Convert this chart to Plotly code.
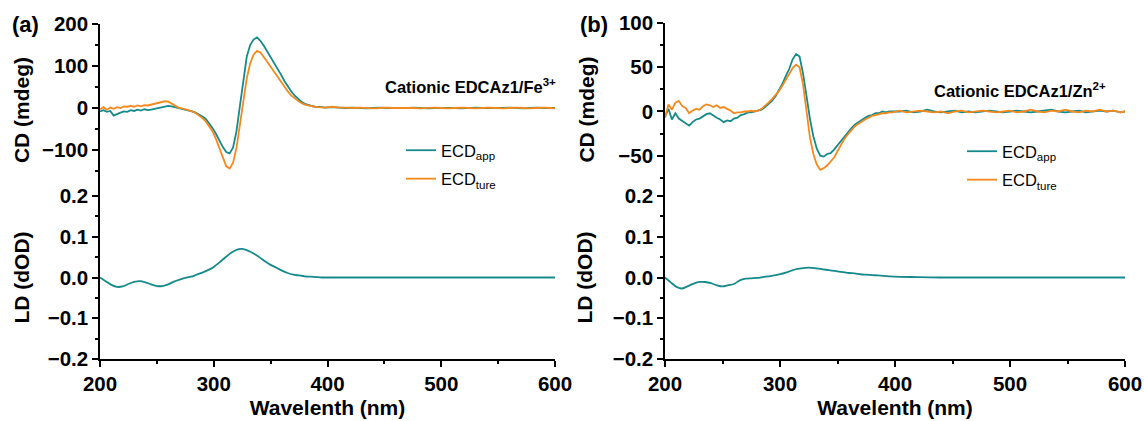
import plotly.graph_objects as go

# ---------------- data ----------------
wl_cd = list(range(200, 399, 3)) + list(range(404, 597, 6)) + [600]
wl_ld = list(range(200, 401, 5)) + list(range(420, 601, 20))

cd_a_app = [-8, -5, -9, -7, -18, -14, -11, -8, -9, -5,
            -7, -4, -6, -3, -5, -4, -2, -1, 1, 3,
            5, 4, 2, 0, -1, -3, -5, -8, -11, -15,
            -20, -26, -36, -48, -62, -78, -93, -105, -108, -94,
            -55, 5, 70, 122, 150, 163, 168, 160, 148, 135,
            122, 108, 94, 80, 65, 52, 40, 30, 22, 15,
            10, 7, 5, 3, 3, 2, 1,
            2, 1, 0, 1, 0, -1, 0, 1, 0, 0,
            -1, 0, 1, 0, -1, 0, 0, 1, 0, -1,
            0, 1, 0, 0, -1, 0, 1, 0, -1, 0,
            1, 0, -1, 0]
cd_a_ture = [-3, 2, -4, 1, -2, 2, 0, 4, 3, 5,
             3, 6, 4, 7, 6, 8, 10, 11, 13, 16,
             15, 10, 5, 1, -1, -3, -5, -8, -12, -17,
             -24, -32, -43, -56, -74, -96, -120, -139, -144, -130,
             -95, -45, 15, 70, 106, 127, 136, 132, 122, 110,
             98, 86, 74, 62, 50, 40, 30, 23, 17, 12,
             8, 6, 4, 3, 2, 2, 1,
             3, 1, 1, 0, 1, 0, -1, 0, 1, 0,
             0, 1, 0, -1, 0, 1, 0, -1, 0, 1,
             0, -1, 0, 1, 0, -1, 0, 1, 0, -1,
             0, 1, 0, -1]
cd_b_app = [-6, 3, -9, -2, -8, -11, -14, -16, -12, -9,
            -8, -5, -3, -2, -5, -7, -9, -12, -10, -11,
            -8, -7, -4, -3, -1, -1, 0, 1, 2, 5,
            8, 12, 17, 24, 31, 40, 48, 59, 65, 62,
            43, 18, -8, -28, -42, -50, -51, -48, -47, -43,
            -38, -34, -29, -24, -19, -15, -12, -9, -7, -5,
            -4, -2, -2, 0, -1, 0, 0,
            0, 1, -1, 0, 2, 0, -1, 0, 1, -1,
            0, -1, 0, 1, 0, -1, 0, 1, 0, -1,
            0, 1, 2, 0, -1, 0, 1, -1, 0, 1,
            0, 1, -1, 0]
cd_b_ture = [-7, 8, 2, 10, 12, 6, 4, -2, 1, 3,
             2, 6, 8, 7, 5, 7, 4, 5, 3, 1,
             -2, -1, -1, 0, 0, 1, 0, 1, 3, 6,
             10, 14, 18, 23, 29, 36, 43, 49, 53, 50,
             31, 0, -29, -48, -60, -66, -64, -61, -57, -52,
             -45, -38, -31, -26, -21, -17, -14, -11, -9, -7,
             -5, -4, -3, -2, -2, -1, -1,
             1, -1, 0, 1, 0, -1, 0, -2, 0, 1,
             -1, 0, 1, 0, -1, 0, 1, -1, 0, 2,
             0, -1, 1, 0, 2, 0, -1, 1, 0, 2,
             0, 1, -1, 0]

ld_a = [0.000, -0.009, -0.018, -0.023, -0.022, -0.016, -0.011, -0.009, -0.012, -0.017,
        -0.021, -0.021, -0.017, -0.010, -0.005, -0.001, 0.002, 0.007, 0.012, 0.018,
        0.026, 0.037, 0.049, 0.060, 0.068, 0.070, 0.066, 0.059, 0.050, 0.040,
        0.031, 0.024, 0.017, 0.011, 0.007, 0.005, 0.003, 0.002, 0.001, 0.000,
        0.000,
        0.000, 0.000, 0.000, 0.000, 0.000, 0.000, 0.000, 0.000, 0.000, 0.000]
ld_b = [0.000, -0.012, -0.023, -0.027, -0.021, -0.015, -0.011, -0.011, -0.014, -0.019,
        -0.022, -0.019, -0.016, -0.007, -0.003, -0.002, -0.001, 0.001, 0.003, 0.005,
        0.008, 0.012, 0.017, 0.021, 0.023, 0.024, 0.023, 0.021, 0.019, 0.017,
        0.015, 0.013, 0.011, 0.010, 0.008, 0.007, 0.006, 0.005, 0.004, 0.003,
        0.002,
        0.001, 0.000, 0.000, 0.000, 0.000, 0.000, 0.000, 0.000, 0.000, 0.000]

series_names = ["ECD<sub>app</sub>", "ECD<sub>ture</sub>"]
panel_labels = ["(a)", "(b)"]
sample_labels = ["Cationic EDCAz1/Fe<sup>3+</sup>", "Cationic EDCAz1/Zn<sup>2+</sup>"]
x_ticks = [200, 300, 400, 500, 600]
cd_a_ticks = [-100, 0, 100, 200]
cd_b_ticks = [-50, 0, 50, 100]
ld_ticks = [-0.2, -0.1, 0.0, 0.1, 0.2]

# ---------------- style ----------------
W, H = 1144, 421
TEAL = "#16898a"
ORANGE = "#f5891d"
FONT = "Liberation Sans, Arial, sans-serif"
LW = 1.8

def px(x):
    return x / W

def py(y):
    return 1 - y / H

fig = go.Figure()

# panel (a)
fig.add_trace(go.Scatter(x=wl_cd, y=cd_a_app, mode="lines", name=series_names[0],
                         line=dict(color=TEAL, width=LW), xaxis="x2", yaxis="y2",
                         legend="legend", legendgroup="a1"))
fig.add_trace(go.Scatter(x=wl_cd, y=cd_a_ture, mode="lines", name=series_names[1],
                         line=dict(color=ORANGE, width=LW), xaxis="x2", yaxis="y2",
                         legend="legend", legendgroup="a2"))
fig.add_trace(go.Scatter(x=wl_ld, y=ld_a, mode="lines", showlegend=False,
                         line=dict(color=TEAL, width=LW, shape="spline", smoothing=0.8),
                         xaxis="x", yaxis="y"))
# panel (b)
fig.add_trace(go.Scatter(x=wl_cd, y=cd_b_app, mode="lines", name=series_names[0],
                         line=dict(color=TEAL, width=LW), xaxis="x4", yaxis="y4",
                         legend="legend2", legendgroup="b1"))
fig.add_trace(go.Scatter(x=wl_cd, y=cd_b_ture, mode="lines", name=series_names[1],
                         line=dict(color=ORANGE, width=LW), xaxis="x4", yaxis="y4",
                         legend="legend2", legendgroup="b2"))
fig.add_trace(go.Scatter(x=wl_ld, y=ld_b, mode="lines", showlegend=False,
                         line=dict(color=TEAL, width=LW, shape="spline", smoothing=0.8),
                         xaxis="x3", yaxis="y3"))

tickfont = dict(family=FONT, size=20.5, color="black", weight="bold")
titlefont = dict(family=FONT, size=21, color="black", weight="bold")

def ax_common():
    return dict(showline=True, linecolor="black", linewidth=1.5, ticks="outside",
                ticklen=6, tickwidth=1.5, tickcolor="black", showgrid=False,
                zeroline=False, tickfont=tickfont, mirror=False, automargin=False)

def minor(vals):
    return dict(tickmode="array", tickvals=vals, ticks="outside", ticklen=3,
                tickwidth=1.5, tickcolor="black", showgrid=False)

xa_dom = [px(100), px(555)]
xb_dom = [px(665), px(1125)]
ld_dom = [py(359), py(196)]

layout = dict(
    width=W, height=H, margin=dict(l=0, r=0, t=0, b=0, autoexpand=False),
    paper_bgcolor="white", plot_bgcolor="white",
    font=dict(family=FONT, color="black"),
    xaxis=dict(**ax_common(), domain=xa_dom, range=[200, 600], anchor="y",
               tickmode="array", tickvals=x_ticks, minor=minor([250, 350, 450, 550]),
               title=dict(text="Wavelenth (nm)", font=titlefont, standoff=6)),
    yaxis=dict(**ax_common(), domain=ld_dom, range=[-0.2, 0.2], anchor="x",
               tickmode="array", tickvals=ld_ticks, tickformat=".1f",
               minor=minor([-0.15, -0.05, 0.05, 0.15]),
               title=dict(text="LD (dOD)", font=titlefont, standoff=12)),
    xaxis2=dict(domain=xa_dom, range=[200, 600], anchor="y2", matches="x",
                showline=False, showticklabels=False, ticks="", showgrid=False,
                zeroline=False, automargin=False),
    yaxis2=dict(**ax_common(), domain=[py(196), py(24)], range=[-209.5, 200], anchor="x2",
                tickmode="array", tickvals=cd_a_ticks,
                minor=minor([-150, -50, 50, 150]),
                title=dict(text="CD (mdeg)", font=titlefont, standoff=7)),
    xaxis3=dict(**ax_common(), domain=xb_dom, range=[200, 600], anchor="y3",
                tickmode="array", tickvals=x_ticks, minor=minor([250, 350, 450, 550]),
                title=dict(text="Wavelenth (nm)", font=titlefont, standoff=6)),
    yaxis3=dict(**ax_common(), domain=ld_dom, range=[-0.2, 0.2], anchor="x3",
                tickmode="array", tickvals=ld_ticks, tickformat=".1f",
                minor=minor([-0.15, -0.05, 0.05, 0.15]),
                title=dict(text="LD (dOD)", font=titlefont, standoff=14)),
    xaxis4=dict(domain=xb_dom, range=[200, 600], anchor="y4", matches="x3",
                showline=False, showticklabels=False, ticks="", showgrid=False,
                zeroline=False, automargin=False),
    yaxis4=dict(**ax_common(), domain=[py(196), py(23)], range=[-95.5, 100], anchor="x4",
                tickmode="array", tickvals=cd_b_ticks,
                minor=minor([-75, -25, 25, 75]),
                title=dict(text="CD (mdeg)", font=titlefont, standoff=18)),
    legend=dict(x=px(401), y=py(133), xanchor="left", yanchor="top",
                bgcolor="rgba(0,0,0,0)", borderwidth=0,
                font=dict(family=FONT, size=16.5, color="black"),
                traceorder="grouped", tracegroupgap=4),
    legend2=dict(x=px(962), y=py(134), xanchor="left", yanchor="top",
                 bgcolor="rgba(0,0,0,0)", borderwidth=0,
                 font=dict(family=FONT, size=16.5, color="black"),
                 traceorder="grouped", tracegroupgap=4),
    showlegend=True,
)
fig.update_layout(**layout)

annotations = [
    dict(text=panel_labels[0], x=px(10), y=py(25), xref="paper", yref="paper",
         xanchor="left", yanchor="middle", showarrow=False,
         font=dict(family=FONT, size=22, color="black", weight="bold")),
    dict(text=panel_labels[1], x=px(578), y=py(25), xref="paper", yref="paper",
         xanchor="left", yanchor="middle", showarrow=False,
         font=dict(family=FONT, size=22, color="black", weight="bold")),
    dict(text=sample_labels[0], x=px(558), y=py(86), xref="paper", yref="paper",
         xanchor="right", yanchor="middle", showarrow=False,
         font=dict(family=FONT, size=16.5, color="black", weight="bold")),
    dict(text=sample_labels[1], x=px(1108), y=py(90), xref="paper", yref="paper",
         xanchor="right", yanchor="middle", showarrow=False,
         font=dict(family=FONT, size=16.5, color="black", weight="bold")),
]
fig.update_layout(annotations=annotations)

fig.write_html("out.html")
